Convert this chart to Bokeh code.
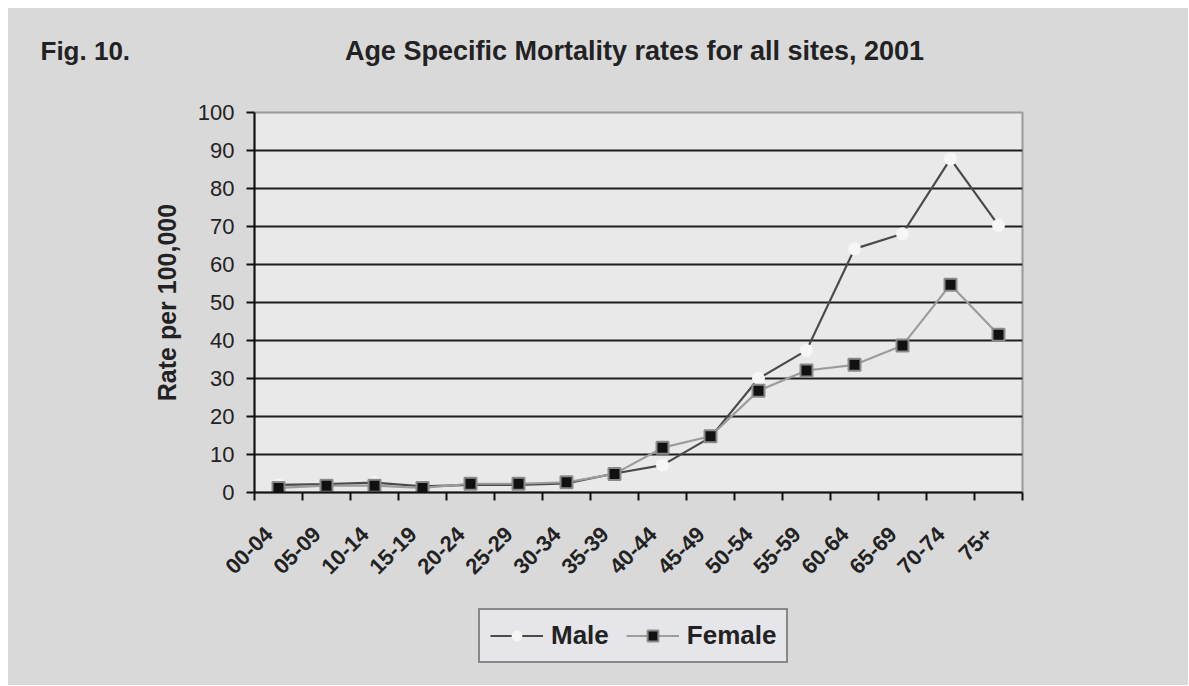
import math
from bokeh.plotting import figure
from bokeh.layouts import column, row
from bokeh.models import FixedTicker, Label, Legend, LegendItem, Range1d
from bokeh.embed import file_html
from bokeh.resources import INLINE

categories = ["00-04", "05-09", "10-14", "15-19", "20-24", "25-29", "30-34", "35-39",
              "40-44", "45-49", "50-54", "55-59", "60-64", "65-69", "70-74", "75+"]
male = [2.0, 2.2, 2.6, 1.6, 2.0, 2.0, 2.4, 5.0, 7.2, 14.5, 30.0, 37.4, 64.1, 68.1, 87.8, 70.3]
female = [1.2, 1.8, 1.8, 1.2, 2.3, 2.3, 2.7, 4.9, 11.8, 14.8, 26.8, 32.1, 33.6, 38.7, 54.7, 41.5]
y_ticks = list(range(0, 101, 10))

title_text = "Age Specific Mortality rates for all sites, 2001"
fig_text = "Fig. 10."
y_label = "Rate per 100,000"

FONT = "Liberation Sans"
BG = "#d9d9da"
TXT = "#222222"
W = 1180
LEFT = 246
FRAME_W = 768

MALE_STYLE = dict(line_color="#4a4a4a", line_width=2.2)
MALE_MARK = dict(marker="circle", size=13, fill_color="#f6f6f6", line_color=None)
FEM_STYLE = dict(line_color="#9c9c9c", line_width=2.2)
FEM_MARK = dict(marker="square", size=12, fill_color="#111111", line_color="#8a8a8a", line_width=2)


def blank(width, height, **borders):
    f = figure(width=width, height=height, output_backend="svg", toolbar_location=None,
               x_range=Range1d(0, width), y_range=Range1d(0, height),
               min_border=0, **borders)
    f.axis.visible = False
    f.grid.visible = False
    f.outline_line_color = None
    f.background_fill_color = BG
    f.background_fill_alpha = 1
    f.border_fill_color = BG
    f.styles = {"background-color": BG}
    return f


# ---- header (two pieces side by side) ----
HEAD_H = 90
head_a = blank(LEFT, HEAD_H, min_border_left=0, min_border_right=0,
               min_border_top=0, min_border_bottom=0)
head_a.add_layout(Label(x=32, y=48, text=fig_text, text_font=FONT, text_font_size="26px",
                        text_font_style="bold", text_color=TXT, text_baseline="middle"))
head_b = blank(W - LEFT, HEAD_H, min_border_left=0, min_border_right=0,
               min_border_top=0, min_border_bottom=0)
head_b.add_layout(Label(x=380, y=48, text=title_text, text_font=FONT, text_font_size="27px",
                        text_font_style="bold", text_color=TXT, text_baseline="middle",
                        text_align="center"))
header = row(head_a, head_b, spacing=0, styles={"background-color": BG})

# ---- main chart ----
n = len(categories)
xc = [i + 0.5 for i in range(n)]
bounds = list(range(n + 1))
label_pos = [x - 0.2 for x in xc]

p = figure(width=W, height=502, output_backend="svg", toolbar_location=None,
           x_range=Range1d(0, n), y_range=Range1d(0, 100),
           min_border_left=LEFT, min_border_right=W - LEFT - FRAME_W, min_border_top=14,
           min_border_bottom=108)
p.background_fill_color = "#e9e9e9"
p.border_fill_color = BG
p.styles = {"background-color": BG}
p.outline_line_color = "#9a9a9a"
p.outline_line_width = 2

p.xgrid.visible = False
p.ygrid.ticker = FixedTicker(ticks=y_ticks[1:-1])
p.ygrid.grid_line_color = "#1e1e1e"
p.ygrid.grid_line_width = 2

ya = p.yaxis[0]
ya.ticker = FixedTicker(ticks=y_ticks)
ya.axis_line_color = "#111111"
ya.axis_line_width = 2
ya.major_tick_line_color = "#111111"
ya.major_tick_line_width = 2
ya.major_tick_out = 8
ya.major_tick_in = 0
ya.minor_tick_line_color = None
ya.major_label_text_font = FONT
ya.major_label_text_font_size = "22px"
ya.major_label_text_color = TXT
ya.major_label_standoff = 12
ya.axis_label = y_label
ya.axis_label_text_font = FONT
ya.axis_label_text_font_size = "25px"
ya.axis_label_text_font_style = "bold"
ya.axis_label_text_color = TXT
ya.axis_label_standoff = 14

xa = p.xaxis[0]
xa.ticker = FixedTicker(ticks=label_pos, minor_ticks=bounds)
xa.major_label_overrides = {x: c for x, c in zip(label_pos, categories)}
xa.axis_line_color = "#111111"
xa.axis_line_width = 2
xa.major_tick_line_color = None
xa.major_tick_out = 0
xa.minor_tick_line_color = "#111111"
xa.minor_tick_line_width = 2
xa.minor_tick_out = 8
xa.minor_tick_in = 0
xa.major_label_orientation = math.pi / 4
xa.major_label_text_font = FONT
xa.major_label_text_font_size = "22px"
xa.major_label_text_font_style = "bold"
xa.major_label_text_color = TXT
xa.major_label_standoff = 30

p.line(xc, male, **MALE_STYLE)
p.scatter(xc, male, **MALE_MARK)
p.line(xc, female, **FEM_STYLE)
p.scatter(xc, female, **FEM_MARK)

# ---- legend strip ----
leg = blank(W, 85, min_border_left=LEFT, min_border_right=W - LEFT - FRAME_W,
            min_border_top=0, min_border_bottom=0)
nan = float("nan")
ml = leg.line([nan], [nan], **MALE_STYLE)
ms = leg.scatter([nan], [nan], **MALE_MARK)
fl = leg.line([nan], [nan], **FEM_STYLE)
fs = leg.scatter([nan], [nan], **FEM_MARK)
legend = Legend(items=[LegendItem(label="Male", renderers=[ml, ms]),
                       LegendItem(label="Female", renderers=[fl, fs])],
                orientation="horizontal", location=(224, 22))
legend.label_text_font = FONT
legend.label_text_font_size = "26px"
legend.label_text_font_style = "bold"
legend.label_text_color = TXT
legend.background_fill_color = "#e6e6ea"
legend.background_fill_alpha = 1
legend.border_line_color = "#2a2a2a"
legend.border_line_width = 2
legend.glyph_width = 53
legend.glyph_height = 27
legend.label_height = 27
legend.label_standoff = 8
legend.spacing = 17
legend.padding = 10
legend.margin = 0
leg.add_layout(legend)

layout = column(header, p, leg, spacing=0, margin=(8, 0, 0, 8),
                styles={"background-color": BG})
open("out.html", "w").write(file_html(layout, INLINE))
